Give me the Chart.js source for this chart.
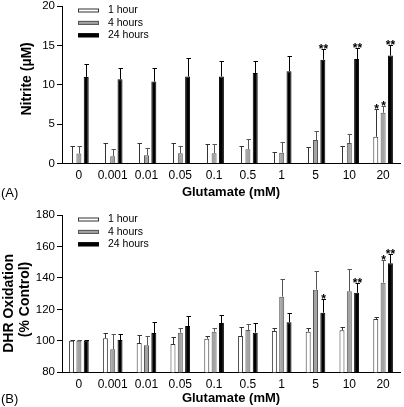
<!DOCTYPE html>
<html>
<head>
<meta charset="utf-8">
<script src="https://cdn.jsdelivr.net/npm/chart.js@4.4.0/dist/chart.umd.min.js"></script>
<style>
  html, body { margin: 0; padding: 0; background: #fff; overflow: hidden; }
  #wrap { position: relative; width: 404px; height: 407px; }
  canvas { position: absolute; left: 0; }
</style>
</head>
<body>
<div id="wrap">
  <canvas id="nitriteChart" width="404" height="204" style="top:-4px"></canvas>
  <canvas id="dhrChart" width="404" height="207" style="top:200px"></canvas>
</div>
<script>
const glutamate = ['0', '0.001', '0.01', '0.05', '0.1', '0.5', '1', '5', '10', '20'];
const seriesNames = ['1 hour', '4 hours', '24 hours'];

// (A) nitrite, µM
const nitrite1h = [0, 0, 0, 0, 0, 0, 0, 0, 0, 3.4];
const nitrite1hErr = [2.24, 2.54, 2.54, 2.55, 2.46, 2.28, 1.5, 2.08, 2.28, 3.46];
const nitrite4h = [1.26, 0.92, 1.05, 1.3, 1.3, 1.82, 1.38, 2.97, 2.59, 6.44];
const nitrite4hErr = [0.98, 0.98, 0.98, 0.9, 1.16, 1.28, 1.29, 1.11, 1.11, 0.84];
const nitrite24h = [11.0, 10.7, 10.4, 11.05, 11.05, 11.5, 11.73, 13.18, 13.27, 13.7];
const nitrite24hErr = [1.6, 1.45, 1.75, 2.35, 2.0, 1.47, 1.87, 1.32, 1.43, 1.3];
const nitrite1hSig = ['', '', '', '', '', '', '', '', '', '*'];
const nitrite4hSig = ['', '', '', '', '', '', '', '', '', '*'];
const nitrite24hSig = ['', '', '', '', '', '', '', '**', '**', '**'];

// (B) DHR oxidation, % control
const dhr1h = [100, 101.6, 98.6, 98, 101.4, 103.1, 106.3, 105.8, 106.7, 113.9];
const dhr1hErr = [0.3, 3.6, 4.9, 4.6, 1.7, 5.9, 2.1, 2.2, 2.3, 1.3];
const dhr4h = [100, 94.6, 97.2, 105.2, 105.8, 106.9, 128.1, 132.5, 131.5, 137];
const dhr4hErr = [0.3, 9.6, 5.7, 2.8, 2.6, 3.8, 11.2, 12.1, 14, 14.2];
const dhr24h = [100, 100.5, 105, 109.4, 111.3, 105.2, 111.8, 117.9, 130.6, 149.3];
const dhr24hErr = [0.3, 3.8, 7.2, 6.6, 5.1, 6.3, 5.7, 8.7, 6, 5.7];
const dhr1hSig = ['', '', '', '', '', '', '', '', '', ''];
const dhr4hSig = ['', '', '', '', '', '', '', '', '', '*'];
const dhr24hSig = ['', '', '', '', '', '', '', '*', '**', '**'];

const FONT = "'Liberation Sans', Arial, sans-serif";
Chart.defaults.font.family = FONT;
Chart.defaults.color = '#000';

const fills = ['#ffffff', '#a3a3a3', '#000000'];
const borders = ['#333333', '#555555', '#000000'];

// one-sided SEM bars + significance marks
const errorBars = {
  id: 'errorBars',
  afterDatasetsDraw(chart) {
    const ctx = chart.ctx;
    const yScale = chart.scales.y;
    chart.data.datasets.forEach((ds, d) => {
      const meta = chart.getDatasetMeta(d);
      meta.data.forEach((bar, i) => {
        const top = yScale.getPixelForValue(ds.data[i] + ds.errors[i]);
        const x = Math.round(bar.x) + 0.5;
        ctx.save();
        ctx.strokeStyle = ds.borderColor;
        ctx.lineWidth = 1;
        ctx.beginPath();
        ctx.moveTo(x, bar.y);
        ctx.lineTo(x, Math.round(top) + 0.5);
        ctx.moveTo(x - 2, Math.round(top) + 0.5);
        ctx.lineTo(x + 2.5, Math.round(top) + 0.5);
        ctx.stroke();
        if (ds.sig[i]) {
          ctx.fillStyle = '#000';
          ctx.font = 'bold 12px ' + FONT;
          ctx.textAlign = 'center';
          ctx.textBaseline = 'alphabetic';
          ctx.fillText(ds.sig[i], x, top + 4);
        }
        ctx.restore();
      });
    });
  }
};

// legend box inside plot + panel letter
const panelDecor = {
  id: 'panelDecor',
  afterDraw(chart, args, opts) {
    const ctx = chart.ctx;
    const area = chart.chartArea;
    ctx.save();
    chart.data.datasets.forEach((ds, d) => {
      const y = area.top + 4.5 + d * 12.4;
      ctx.fillStyle = ds.backgroundColor;
      ctx.fillRect(area.left + 16, y - 2, 21, 4);
      ctx.strokeStyle = ds.borderColor;
      ctx.lineWidth = 1;
      ctx.strokeRect(area.left + 16.5, y - 1.5, 20, 3);
      ctx.fillStyle = '#000';
      ctx.font = '10.5px ' + FONT;
      ctx.textBaseline = 'middle';
      ctx.textAlign = 'left';
      ctx.fillText(ds.label, area.left + 46, y);
    });
    ctx.font = '13px ' + FONT;
    ctx.textBaseline = 'middle';
    ctx.fillText(opts.letter, 1, chart.height - opts.letterOffset);
    ctx.restore();
  }
};

function makeDatasets(values, errs, sigs) {
  return values.map((v, k) => ({
    label: seriesNames[k],
    data: v,
    errors: errs[k],
    sig: sigs[k],
    backgroundColor: fills[k],
    borderColor: borders[k],
    borderWidth: 1,
    barPercentage: 0.68,
    categoryPercentage: 0.65
  }));
}

function axes(yMin, yMax, step, yTitle, yTitlePad, xHeight, xTitlePad) {
  return {
    x: {
      grid: { display: false, drawTicks: false },
      border: { display: true, color: '#000', width: 1 },
      ticks: { padding: 5, font: { size: 12 }, color: '#000', maxRotation: 0, autoSkip: false },
      title: { display: true, text: 'Glutamate (mM)', font: { size: 13, weight: 'bold' }, padding: { top: 0, bottom: xTitlePad } },
      afterFit: s => { s.height = xHeight; }
    },
    y: {
      min: yMin,
      max: yMax,
      ticks: { stepSize: step, padding: 2, font: { size: 11.5 }, color: '#000' },
      grid: { display: true, drawOnChartArea: false, drawTicks: true, tickLength: 5, color: '#000' },
      border: { display: true, color: '#000', width: 1 },
      title: { display: true, text: yTitle, font: { size: 14, weight: 'bold', lineHeight: 1.15 }, padding: { top: yTitlePad, bottom: 0 } },
      afterFit: s => { s.width = 62; }
    }
  };
}

// Nitrite chart
new Chart(document.getElementById('nitriteChart'), {
  type: 'bar',
  data: {
    labels: glutamate,
    datasets: makeDatasets(
      [nitrite1h, nitrite4h, nitrite24h],
      [nitrite1hErr, nitrite4hErr, nitrite24hErr],
      [nitrite1hSig, nitrite4hSig, nitrite24hSig])
  },
  options: {
    responsive: false,
    animation: false,
    layout: { padding: { top: 10, right: 4, left: 0, bottom: 0 } },
    plugins: { legend: { display: false }, tooltip: { enabled: false }, panelDecor: { letter: '(A)', letterOffset: 7 } },
    // leading spaces nudge the rotated title up a little, as in the original
    scales: axes(0, 20, 5, '   Nitrite (µM)', 19, 36.5, 0)
  },
  plugins: [errorBars, panelDecor]
});

// DHR chart
new Chart(document.getElementById('dhrChart'), {
  type: 'bar',
  data: {
    labels: glutamate,
    datasets: makeDatasets(
      [dhr1h, dhr4h, dhr24h],
      [dhr1hErr, dhr4hErr, dhr24hErr],
      [dhr1hSig, dhr4hSig, dhr24hSig])
  },
  options: {
    responsive: false,
    animation: false,
    layout: { padding: { top: 15, right: 4, left: 0, bottom: 0 } },
    plugins: { legend: { display: false }, tooltip: { enabled: false }, panelDecor: { letter: '(B)', letterOffset: 8 } },
    // trailing spaces push the title lines down toward the bars
    scales: axes(80, 180, 20, ['DHR Oxidation     ', '(% Control)   '], 1, 34.7, 1)
  },
  plugins: [errorBars, panelDecor]
});
</script>
</body>
</html>
